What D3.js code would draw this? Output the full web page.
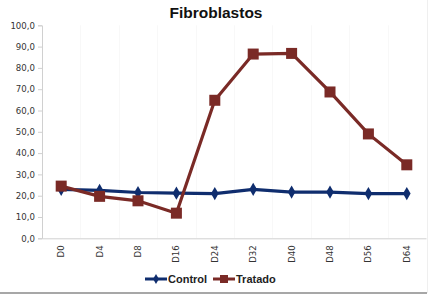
<!DOCTYPE html>
<html>
<head>
<meta charset="utf-8">
<script src="https://cdn.jsdelivr.net/npm/d3@7"></script>
<style>
  body { margin: 0; background: #fff; }
  svg { display: block; font-family: "Liberation Sans", Arial, sans-serif; }
</style>
</head>
<body>
<div id="chart"></div>
<script>
// categories and series
const days = ["D0", "D4", "D8", "D16", "D24", "D32", "D40", "D48", "D56", "D64"];
const control = [23.0, 22.5, 21.5, 21.2, 21.0, 23.0, 21.7, 21.7, 21.0, 21.0];
const tratado = [24.5, 19.7, 17.6, 11.8, 64.8, 86.5, 86.8, 68.7, 49.0, 34.5];
const yTicks = [0, 10, 20, 30, 40, 50, 60, 70, 80, 90, 100];

const width = 430, height = 297;
const margins = { top: 25.3, right: 4, bottom: 58.7, left: 42 };

const svg = d3.select("#chart").append("svg")
  .attr("width", width)
  .attr("height", height);

// frame lines
svg.append("line")
  .attr("x1", 0).attr("x2", 427).attr("y1", 293).attr("y2", 293)
  .attr("stroke", "#8a8a8a").attr("stroke-width", 1.5);
svg.append("line")
  .attr("x1", 427.5).attr("x2", 427.5).attr("y1", 0).attr("y2", 293)
  .attr("stroke", "#efefef");

const x = d3.scaleBand()
  .domain(days)
  .range([margins.left, width - margins.right]);

const y = d3.scaleLinear()
  .domain([0, 100])
  .range([height - margins.bottom, margins.top]);

// faint vertical gridlines at category boundaries
svg.append("g")
  .selectAll("line")
  .data(days.slice(1))
  .enter()
  .append("line")
  .attr("x1", d => Math.round(x(d)) + 0.5)
  .attr("x2", d => Math.round(x(d)) + 0.5)
  .attr("y1", y(100))
  .attr("y2", y(0))
  .attr("stroke", "#f8f8f8");

// y axis
const yAxis = svg.append("g")
  .attr("transform", `translate(${margins.left},0)`)
  .call(d3.axisLeft(y).tickValues(yTicks).tickSize(4).tickPadding(3)
    .tickFormat(d => d3.format(".1f")(d).replace(".", ",")));
yAxis.select(".domain").attr("stroke", "#d0d0d0");
yAxis.selectAll(".tick line").attr("stroke", "#d0d0d0");
yAxis.selectAll("text")
  .attr("fill", "#333")
  .style("font-family", "'DejaVu Sans', sans-serif")
  .style("font-size", "8.6px");

// x axis
const xAxis = svg.append("g")
  .attr("transform", `translate(0,${y(0)})`)
  .call(d3.axisBottom(x).tickSize(0).tickPadding(0));
xAxis.select(".domain").attr("stroke", "#d0d0d0");
xAxis.selectAll("text")
  .attr("fill", "#333")
  .style("font-family", "'DejaVu Sans', sans-serif")
  .style("font-size", "8.6px")
  .attr("transform", "rotate(-90)")
  .attr("text-anchor", "end")
  .attr("x", -7)
  .attr("y", 0)
  .attr("dy", "0.35em");

const line = d3.line()
  .x((d, i) => x(days[i]) + x.bandwidth() / 2)
  .y(d => y(d));

// Control series
svg.append("path")
  .datum(control)
  .attr("fill", "none")
  .attr("stroke", "#0f2d6e")
  .attr("stroke-width", 3.2)
  .attr("d", line);
const diamond = d3.symbol().type(d3.symbolDiamond).size(50);
svg.append("g")
  .selectAll("path")
  .data(control)
  .enter()
  .append("path")
  .attr("d", diamond)
  .attr("transform", (d, i) => `translate(${x(days[i]) + x.bandwidth() / 2},${y(d)})`)
  .attr("fill", "#0f2d6e");

// Tratado series
svg.append("path")
  .datum(tratado)
  .attr("fill", "none")
  .attr("stroke", "#7a2a26")
  .attr("stroke-width", 3.2)
  .attr("d", line);
svg.append("g")
  .selectAll("rect")
  .data(tratado)
  .enter()
  .append("rect")
  .attr("x", (d, i) => x(days[i]) + x.bandwidth() / 2 - 5.5)
  .attr("y", d => y(d) - 5.5)
  .attr("width", 11)
  .attr("height", 11)
  .attr("fill", "#7a2a26");

// title
svg.append("text")
  .attr("x", 216)
  .attr("y", 18)
  .attr("text-anchor", "middle")
  .style("font-weight", "bold")
  .style("font-size", "15.5px")
  .attr("fill", "#111")
  .text("Fibroblastos");

// legend
const legend = [
  { name: "Control", color: "#0f2d6e", x: 145 },
  { name: "Tratado", color: "#7a2a26", x: 213 }
];
const lg = svg.append("g").selectAll("g")
  .data(legend)
  .enter()
  .append("g")
  .attr("transform", d => `translate(${d.x},279)`);
lg.append("line")
  .attr("x1", 0).attr("x2", 22).attr("y1", 0).attr("y2", 0)
  .attr("stroke", d => d.color).attr("stroke-width", 3);
lg.filter(d => d.name === "Control").append("path")
  .attr("d", d3.symbol().type(d3.symbolDiamond).size(30))
  .attr("transform", "translate(11,0)")
  .attr("fill", d => d.color);
lg.filter(d => d.name === "Tratado").append("rect")
  .attr("x", 7).attr("y", -4).attr("width", 8).attr("height", 8)
  .attr("fill", d => d.color);
lg.append("text")
  .attr("x", 23)
  .attr("y", 0)
  .attr("dy", "0.35em")
  .style("font-weight", "bold")
  .style("font-size", "11px")
  .attr("fill", "#222")
  .text(d => d.name);
</script>
</body>
</html>
